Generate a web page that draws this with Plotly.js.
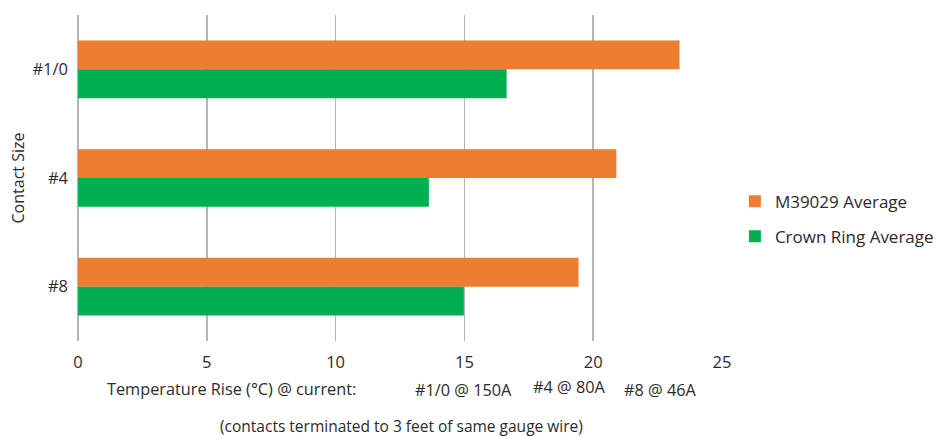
<!DOCTYPE html>
<html>
<head>
<meta charset="utf-8">
<script src="https://cdn.plot.ly/plotly-3.0.1.min.js"></script>
<style>
  html, body { margin: 0; padding: 0; background: #ffffff; }
  #chart { width: 945px; height: 436px; }
</style>
</head>
<body>
<div id="chart"></div>
<script>
// Contact sizes, top to bottom
const contactSizes = ['#1/0', '#4', '#8'];

// Average temperature rise (°C) per contact size
const m39029Average = [23.35, 20.9, 19.43];
const crownRingAverage = [16.64, 13.62, 14.98];

// Series names
const seriesNames = ['M39029 Average', 'Crown Ring Average'];

// Test current for each contact size
const currentLabels = ['#1/0 @ 150A', '#4 @ 80A', '#8 @ 46A'];

const FONT = '"Open Sans", "Noto Sans", sans-serif';
const TEXT = '#2b2b2b';
const GRID = '#b5b5b5';

const traces = [
  {
    type: 'bar',
    orientation: 'h',
    name: seriesNames[0],
    y: contactSizes,
    x: m39029Average,
    marker: { color: '#ED7D31' },
    legendgroup: 'a',
    hoverinfo: 'x+name'
  },
  {
    type: 'bar',
    orientation: 'h',
    name: seriesNames[1],
    y: contactSizes,
    x: crownRingAverage,
    marker: { color: '#00B050' },
    legendgroup: 'b',
    hoverinfo: 'x+name'
  }
];

// Positions of the current labels under the axis (paper units)
const labelX = [0.599, 0.763, 0.905];
const labelY = [-0.150, -0.141, -0.150];

const annotations = [
  {
    text: 'Temperature Rise (°C) @ current:',
    xref: 'paper', yref: 'paper', x: 0.238, y: -0.147,
    xanchor: 'center', yanchor: 'middle', showarrow: false,
    font: { family: FONT, size: 16.3, color: TEXT }
  },
  {
    text: '(contacts terminated to 3 feet of same gauge wire)',
    xref: 'paper', yref: 'paper', x: 0.5016, y: -0.261,
    xanchor: 'center', yanchor: 'middle', showarrow: false,
    font: { family: FONT, size: 15.5, color: TEXT }
  }
].concat(currentLabels.map((t, i) => ({
  text: t,
  xref: 'paper', yref: 'paper', x: labelX[i], y: labelY[i],
  xanchor: 'center', yanchor: 'middle', showarrow: false,
  font: { family: FONT, size: 16.3, color: TEXT }
})));

const layout = {
  width: 945,
  height: 436,
  margin: { l: 78, r: 223, t: 15, b: 95, autoexpand: false },
  paper_bgcolor: '#ffffff',
  plot_bgcolor: '#ffffff',
  font: { family: FONT, size: 16, color: TEXT },
  barmode: 'group',
  bargap: 0.47,
  bargroupgap: 0,
  xaxis: {
    range: [0, 25],
    dtick: 5,
    tick0: 0,
    showgrid: true,
    gridcolor: GRID,
    gridwidth: 1.5,
    zeroline: true,
    zerolinecolor: GRID,
    zerolinewidth: 1.5,
    showline: false,
    ticks: '',
    ticklabelstandoff: 9,
    tickfont: { family: FONT, size: 16.5, color: TEXT },
    automargin: false,
    fixedrange: true
  },
  yaxis: {
    autorange: 'reversed',
    type: 'category',
    showgrid: false,
    zeroline: false,
    showline: false,
    ticks: '',
    ticklabelstandoff: 9,
    tickfont: { family: FONT, size: 16.5, color: TEXT },
    title: { text: 'Contact Size', font: { family: FONT, size: 16, color: TEXT }, standoff: 3 },
    automargin: false,
    fixedrange: true
  },
  legend: {
    x: 1.02,
    xanchor: 'left',
    y: 0.374,
    yanchor: 'middle',
    traceorder: 'grouped',
    tracegroupgap: 10,
    font: { family: FONT, size: 17, color: TEXT },
    bgcolor: 'rgba(0,0,0,0)'
  },
  showlegend: true,
  annotations: annotations
};

Plotly.newPlot('chart', traces, layout, { displayModeBar: false, staticPlot: true });
</script>
</body>
</html>
